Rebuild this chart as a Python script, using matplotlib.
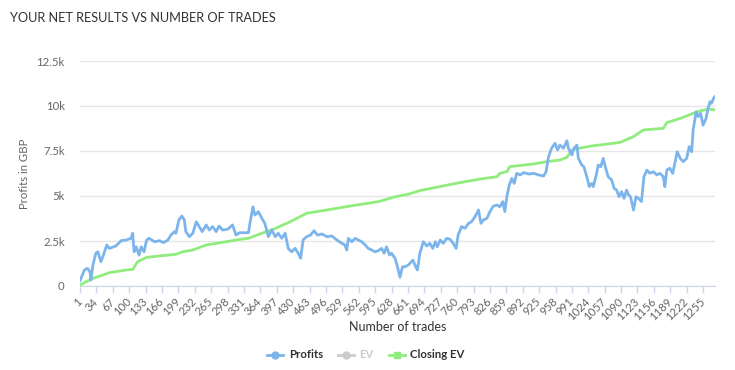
import matplotlib
matplotlib.use("Agg")
import matplotlib.pyplot as plt
from matplotlib.lines import Line2D
from matplotlib.ticker import FuncFormatter

plt.rcParams['font.family'] = ['Lato', 'DejaVu Sans']

title = "YOUR NET RESULTS VS NUMBER OF TRADES"

profit_trades = [1, 10, 16, 21, 23, 27, 33, 37, 43, 47, 55, 60, 73, 84, 94, 104, 107, 110, 114, 120,
                 124, 130, 135, 140, 151, 161, 169, 178, 184, 191, 194, 200, 206, 211, 214, 221, 228, 235, 241, 247,
                 255, 261, 268, 275, 281, 288, 298, 308, 315, 322, 332, 340, 343, 349, 353, 360, 367, 373, 380, 387,
                 394, 400, 407, 414, 420, 427, 434, 440, 445, 450, 457, 465, 472, 479, 488, 498, 508, 518, 528, 534,
                 538, 541, 548, 555, 561, 568, 575, 581, 588, 595, 601, 608, 613, 618, 624, 628, 635, 640, 645, 650,
                 655, 662, 665, 671, 675, 680, 685, 692, 699, 705, 711, 716, 720, 726, 732, 739, 746, 752, 758, 762,
                 769, 776, 783, 789, 796, 803, 808, 813, 820, 826, 833, 840, 846, 852, 856, 860, 865, 870, 875, 880,
                 887, 894, 904, 914, 924, 934, 939, 944, 950, 957, 962, 967, 974, 981, 984, 991, 995, 1001, 1004, 1011,
                 1015, 1021, 1026, 1031, 1034, 1040, 1044, 1049, 1054, 1059, 1064, 1071, 1076, 1081, 1086, 1091, 1096, 1101, 1105, 1109,
                 1115, 1120, 1125, 1131, 1136, 1142, 1148, 1155, 1162, 1168, 1175, 1178, 1182, 1188, 1194, 1198, 1203, 1209, 1215, 1222,
                 1227, 1232, 1235, 1241, 1245, 1250, 1255, 1261, 1265, 1269, 1272, 1276, 1279]
profits = [300, 890, 980, 800, 330, 1170, 1830, 1900, 1350, 1630, 2280, 2090, 2220, 2520, 2555, 2650, 2930, 1900, 2180, 1720,
           2180, 1900, 2555, 2650, 2460, 2520, 2410, 2555, 2830, 3020, 2930, 3670, 3890, 3670, 3020, 2740, 2930, 3570, 3300, 3020,
           3390, 3110, 3300, 3020, 3330, 3110, 3150, 3390, 2830, 2960, 2960, 2960, 3480, 4400, 3940, 4130, 3760, 3480, 2740, 3110,
           2740, 2930, 2650, 2930, 2090, 1900, 2090, 1820, 1540, 2555, 2740, 2830, 3070, 2830, 2890, 2740, 2780, 2555, 2370, 2280,
           2000, 2650, 2460, 2650, 2555, 2460, 2280, 2090, 2000, 1900, 1960, 2090, 1820, 2180, 1720, 1820, 1540, 1070, 480, 1070,
           1070, 1170, 1260, 1440, 1170, 890, 1820, 2460, 2220, 2370, 2090, 2460, 2180, 2555, 2370, 2650, 2590, 2370, 2090, 2830,
           3300, 3210, 3480, 3570, 3850, 4220, 3480, 3670, 3760, 4130, 4440, 4500, 4400, 4690, 4130, 4960, 5610, 5980, 5700, 6260,
           6170, 6300, 6220, 6260, 6170, 6110, 6350, 7180, 7650, 7930, 7560, 7830, 7650, 8070, 7650, 7280, 7650, 7830, 7090, 6720,
           6630, 6070, 5520, 5700, 5520, 6170, 6720, 6630, 7090, 6540, 6070, 5890, 5430, 5330, 4960, 5240, 4870, 5330, 5060, 4960,
           4220, 4960, 4870, 4690, 6070, 6440, 6260, 6350, 6170, 6260, 6070, 5520, 6440, 6540, 6260, 6810, 7460, 7090, 6910, 7090,
           7740, 7460, 8670, 9680, 9410, 9590, 8940, 9310, 9870, 10240, 10150, 10430, 10520]

ev_trades = [1, 27, 47, 60, 94, 107, 117, 135, 161, 194, 207, 228, 255, 295, 323, 340, 357, 390, 424, 457,
             497, 544, 602, 636, 663, 685, 725, 765, 806, 840, 846, 860, 866, 914, 940, 967, 981, 991, 1005, 1031,
             1064, 1088, 1115, 1135, 1175, 1182, 1209, 1235, 1250, 1265, 1279]
closing_ev = [55, 430, 610, 740, 890, 925, 1350, 1590, 1670, 1760, 1900, 2000, 2280, 2460, 2590, 2650, 2830, 3150, 3570, 4040,
              4220, 4440, 4690, 4960, 5110, 5300, 5520, 5740, 5940, 6070, 6260, 6350, 6630, 6780, 6910, 7000, 7150, 7560, 7650, 7780,
              7890, 7980, 8300, 8670, 8760, 9080, 9310, 9590, 9740, 9820, 9790]

x_ticks = list(range(1, 1256, 33))
y_ticks = [0, 2500, 5000, 7500, 10000, 12500]
n_trades = 1279

BLUE = '#7cb5ec'
GREEN = '#90ed7d'
GREY = '#cccccc'

fig = plt.figure(figsize=(7.35, 3.70), dpi=100)
ax = fig.add_axes([80/735, 1-286/370, (715-80)/735, (286-61)/370])

ax.plot(profit_trades, profits, color=BLUE, lw=2, solid_joinstyle='round', zorder=3)
ax.plot(ev_trades, closing_ev, color=GREEN, lw=2, solid_joinstyle='round', zorder=2)

ax.set_xlim(1, n_trades)
ax.set_ylim(0, 12500)
ax.set_yticks(y_ticks)

def kfmt(v, pos):
    if v == 0:
        return '0'
    s = f"{v/1000:g}"
    return s + 'k'
ax.yaxis.set_major_formatter(FuncFormatter(kfmt))
ax.set_xticks(x_ticks)
ax.set_xticklabels([str(t) for t in x_ticks], rotation=45, ha='right', va='center',
                   rotation_mode='anchor', fontsize=8.2, color='#666666')
ax.tick_params(axis='x', length=5, color='#ccd6eb', width=1, pad=5)
ax.tick_params(axis='y', length=0, labelsize=8.2, labelcolor='#666666', pad=11)

ax.grid(axis='y', color='#e6e6e6', lw=1)
ax.set_axisbelow(True)
for s in ['top', 'right', 'left']:
    ax.spines[s].set_visible(False)
ax.spines['bottom'].set_color('#ccd6eb')

ax.set_ylabel('Profits in GBP', fontsize=8.2, color='#666666')
ax.yaxis.set_label_coords((30-80)/635, 0.5)
fig.text((80+715)/2/735, 1-327/370, 'Number of trades', ha='center', va='center',
         fontsize=9, color='#333333')

fig.text(10/735, 1-18/370, title, ha='left', va='center', fontsize=9.2, color='#333333')

handles = [Line2D([0], [0], color=BLUE, lw=2, marker='o', ms=5),
           Line2D([0], [0], color=GREY, lw=2, marker='o', ms=5),
           Line2D([0], [0], color=GREEN, lw=2, marker='s', ms=5)]
leg = fig.legend(handles, ['Profits', 'EV', 'Closing EV'], loc='center',
                 bbox_to_anchor=(366/735, 1-355/370), ncol=3, frameon=False,
                 prop={'weight': 'bold', 'size': 8.2}, handlelength=1.4,
                 handletextpad=0.5, columnspacing=1.3)
cols = ['#333333', GREY, '#333333']
for t, c in zip(leg.get_texts(), cols):
    t.set_color(c)

fig.savefig('out.png', dpi=100)
